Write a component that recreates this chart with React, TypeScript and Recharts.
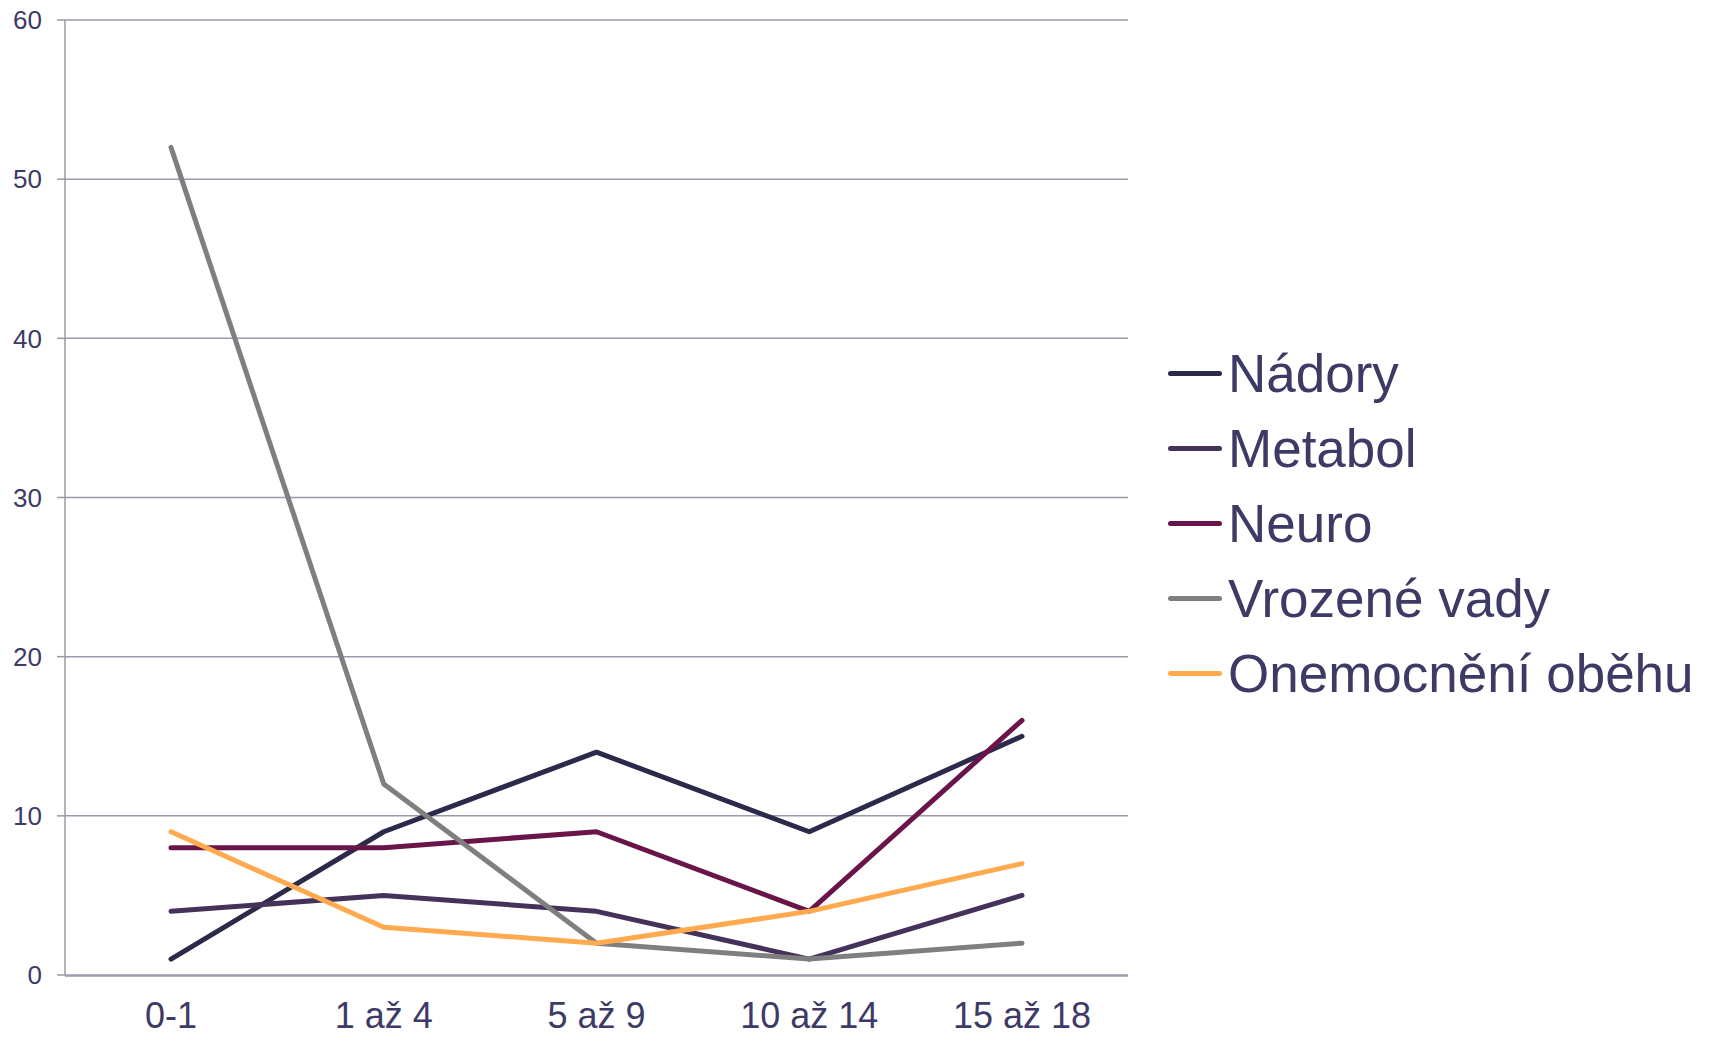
import { LineChart, Line, XAxis, YAxis, CartesianGrid } from "recharts";

// age groups
const categories = ["0-1", "1 až 4", "5 až 9", "10 až 14", "15 až 18"];

const seriesNames = ["Nádory", "Metabol", "Neuro", "Vrozené vady", "Onemocnění oběhu"];
const nadory = [1, 9, 14, 9, 15];
const metabol = [4, 5, 4, 1, 5];
const neuro = [8, 8, 9, 4, 16];
const vrozeneVady = [52, 12, 2, 1, 2];
const obeh = [9, 3, 2, 4, 7];

const yTicks = [0, 10, 20, 30, 40, 50, 60];

const COLORS = ["#2c2a4a", "#45325a", "#6a1549", "#7f7f7f", "#ffaa4f"];
const TEXT = "#3d3a66";
const GRID = "#9b98aa";
const FONT = "'Liberation Sans', Arial, sans-serif";

const values = [nadory, metabol, neuro, vrozeneVady, obeh];

const data = categories.map((c, i) => {
  const row: Record<string, string | number> = { name: c };
  seriesNames.forEach((s, j) => {
    row[s] = values[j][i];
  });
  return row;
});

export default function App() {
  return (
    <div style={{ position: "absolute", left: 0, top: 0, width: 1711, height: 1037, fontFamily: FONT }}>
      <LineChart
        width={1711}
        height={1037}
        data={data}
        margin={{ top: 20, right: 583, left: 0, bottom: 60 }}
      >
        <CartesianGrid vertical={false} stroke={GRID} strokeWidth={1.5} />
        {/* frame axis: only tick marks between categories */}
        <XAxis
          xAxisId="frame"
          type="number"
          domain={[0, 5]}
          ticks={[0, 1, 2, 3, 4, 5]}
          tick={false}
          height={1}
          stroke={GRID}
          strokeWidth={1.5}
          tickSize={8}
          allowDataOverflow
        />
        <XAxis
          xAxisId="cat"
          dataKey="name"
          height={1}
          axisLine={false}
          tickLine={false}
          padding={{ left: 106, right: 106 }}
          tickMargin={21}
          tick={{ fill: TEXT, fontSize: 36, fontFamily: FONT }}
          interval={0}
        />
        <YAxis
          domain={[0, 60]}
          ticks={yTicks}
          width={65}
          stroke={GRID}
          strokeWidth={1.5}
          tickSize={8}
          tickMargin={15}
          tick={{ fill: TEXT, fontSize: 26, fontFamily: FONT }}
        />
        {seriesNames.map((s, i) => (
          <Line
            key={s}
            xAxisId="cat"
            dataKey={s}
            stroke={COLORS[i]}
            strokeWidth={5}
            dot={false}
            strokeLinecap="round"
            strokeLinejoin="round"
            isAnimationActive={false}
          />
        ))}
      </LineChart>

      {/* legend */}
      <div style={{ position: "absolute", left: 1168, top: 336 }}>
        {seriesNames.map((s, i) => (
          <div
            key={s}
            style={{ display: "flex", alignItems: "center", height: 75, color: TEXT, fontSize: 53, whiteSpace: "nowrap" }}
          >
            <span
              style={{
                display: "inline-block",
                width: 54,
                height: 5,
                borderRadius: 3,
                background: COLORS[i],
                marginRight: 6,
              }}
            />
            {s}
          </div>
        ))}
      </div>
    </div>
  );
}
